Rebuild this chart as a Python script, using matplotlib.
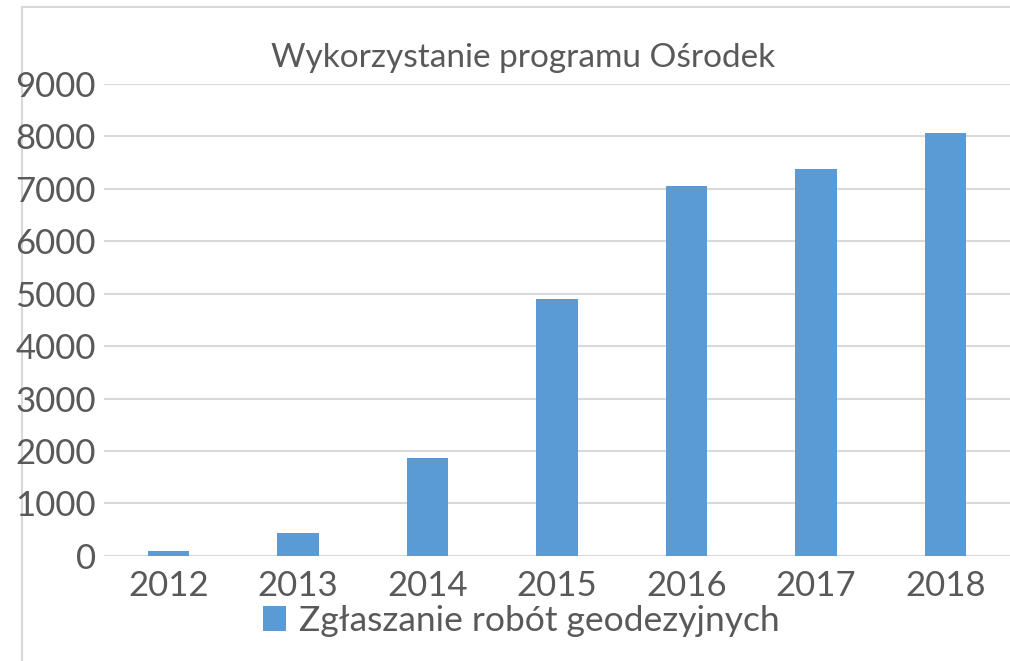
import matplotlib.pyplot as plt
from matplotlib.lines import Line2D

years = ['2012', '2013', '2014', '2015', '2016', '2017', '2018']
counts = [95, 440, 1870, 4900, 7060, 7370, 8070]
series_name = 'Zgłaszanie robót geodezyjnych'
title = 'Wykorzystanie programu Ośrodek'

BAR_COLOR = '#5b9bd5'
TEXT_COLOR = '#595959'
GRID_COLOR = '#d9d9d9'

plt.rcParams['font.family'] = ['Lato', 'DejaVu Sans']

fig = plt.figure(figsize=(10.1, 6.61), dpi=100)
ax = fig.add_axes([0.103, 0.159, 0.897, 0.714])

x = range(len(years))
bars = ax.bar(x, counts, width=0.32, color=BAR_COLOR, label=series_name, zorder=3)

ax.set_xlim(-0.5, len(years) - 0.5)
ax.set_ylim(0, 9000)
ax.set_yticks(range(0, 9001, 1000))
ax.set_xticks(list(x))
ax.set_xticklabels(years)
ax.yaxis.grid(True, color=GRID_COLOR, linewidth=1.5, zorder=0)
for s in ax.spines.values():
    s.set_visible(False)
ax.tick_params(axis='both', length=0, labelsize=25, colors=TEXT_COLOR)
ax.tick_params(axis='y', pad=6)
ax.tick_params(axis='x', pad=10)

fig.text(0.518, 0.912, title, ha='center', va='center', fontsize=24, color=TEXT_COLOR)

# outer chart frame (only left and top edges are visible), drawn under the text
fx = 22 / 1010
fy = 1 - 7 / 661
fig.lines.append(Line2D([fx, fx], [0, fy], transform=fig.transFigure, color=GRID_COLOR,
                        linewidth=1.5, zorder=-5))
fig.lines.append(Line2D([fx, 1], [fy, fy], transform=fig.transFigure, color=GRID_COLOR,
                        linewidth=1.5, zorder=-5))

leg = fig.legend(handles=[bars], labels=[series_name], loc='center',
                 bbox_to_anchor=(0.516, 1 - 621 / 661), frameon=False, fontsize=25.5,
                 handlelength=0.65, handleheight=0.7, handletextpad=0.35)
for t in leg.get_texts():
    t.set_color(TEXT_COLOR)

fig.savefig('out.png', dpi=100)
